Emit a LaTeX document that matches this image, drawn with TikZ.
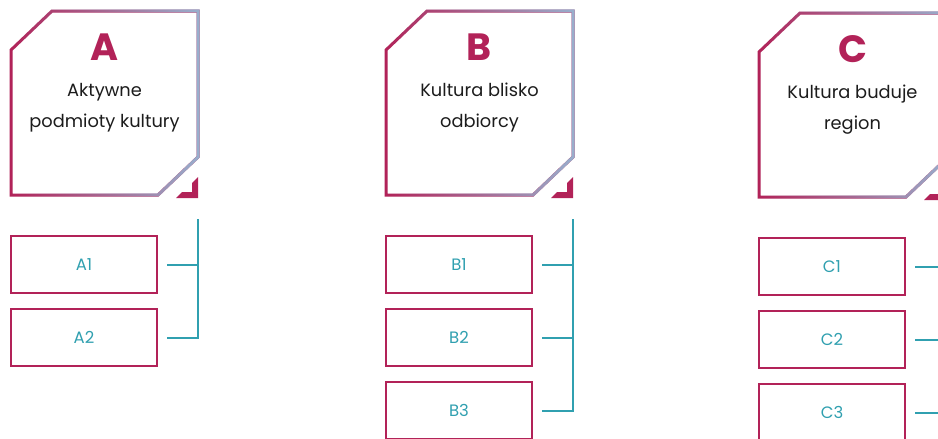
\documentclass[tikz,border=0pt]{standalone}
\usepackage{fontspec}
\setmainfont{Poppins}
\usetikzlibrary{positioning, fadings}
\definecolor{KCrimson}{RGB}{178,34,88}
\definecolor{KTeal}{RGB}{48,160,176}
\definecolor{KSteel}{RGB}{152,176,206}
\definecolor{KInk}{RGB}{28,28,28}
\tikzfading[name=steelfade, left color=transparent!100,
            middle color=transparent!55, right color=transparent!0]
\newcommand\panelshape{(11,50) -- (52,11) -- (198,11) -- (198,157)
                       -- (158,195) -- (11,195) -- cycle}

\begin{document}
\begin{tikzpicture}[x=1pt, y=-1pt,
          frame/.style={line width=3pt, line join=miter},
          sub/.style={rectangle, draw=KCrimson, line width=2pt,
                      minimum width=146pt, minimum height=57pt, inner sep=0pt,
                      font=\fontsize{16.5}{16.5}\selectfont, text=KTeal},
          lnk/.style={KTeal, line width=2pt}
        ]
        \clip (0,0) rectangle (938,439);
        \fill[white] (0,0) rectangle (938,439);
        % Panels
        \foreach \k/\dx/\dy/\n/\ttl in {A/0/0/2/{Aktywne\\podmioty kultury},
                                         B/375/0/3/{Kultura blisko\\odbiorcy},
                                         C/748/2/3/{Kultura buduje\\region}} {
          \begin{scope}[shift={(\dx,\dy)}]
            \draw[frame, KCrimson] \panelshape;
            \draw[frame, KSteel, path fading=steelfade] \panelshape;
            \fill[KCrimson] (176,198) -- (198,198) -- (198,177) -- (192,183)
                            -- (192,192) -- (182,192) -- cycle;
          \end{scope}
          \node[font=\fontsize{38}{38}\selectfont\bfseries, text=KCrimson]
                (L\k) at (104.5+\dx, 47+\dy) {\k};
          \node[align=center, font=\fontsize{17.8}{31}\selectfont, text=KInk]
                (T\k) at (104.5+\dx, 107.5+\dy) {\ttl};
          % Sub boxes
          \foreach \i in {1,...,\n} {
            \node[sub] (\k\i) at (84+\dx, 264.5+73*\i-73+\dy) {\k\i};
          }
          \coordinate (top\k) at (198+\dx, 219+\dy);
          \draw[lnk] (top\k) -- (top\k |- \k\n.center)
                     -- ([xshift=9pt]\k\n.east);
          \foreach \i in {1,...,\n} {
            \ifnum\i<\n
              \draw[lnk] ([xshift=9pt]\k\i.east) -- (\k\i.east -| top\k);
            \fi
          }
        }
      \end{tikzpicture}
\end{document}
